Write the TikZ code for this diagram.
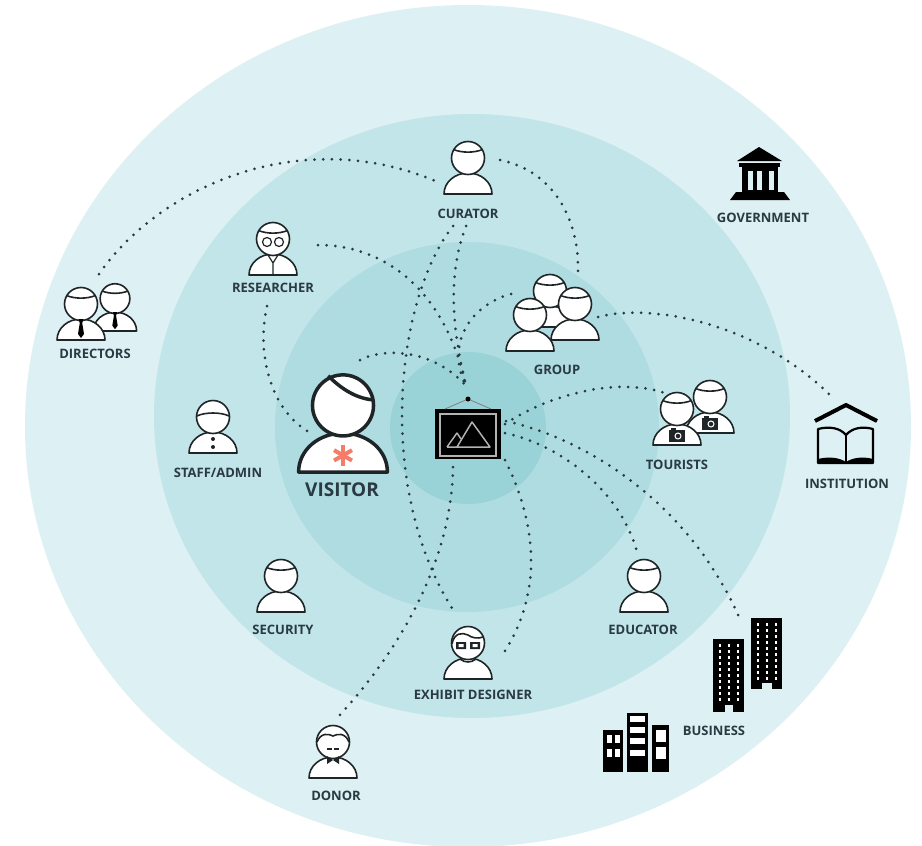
\documentclass[tikz,border=0pt]{standalone}
\usepackage{fontspec}
\setsansfont{Open Sans}
\usepackage{tikz}
\definecolor{ringfour}{HTML}{DDF0F3}
\definecolor{ringthree}{HTML}{C2E5E9}
\definecolor{ringtwo}{HTML}{AEDCE0}
\definecolor{ringone}{HTML}{9AD3D7}
\definecolor{iconink}{HTML}{1F2527}
\definecolor{labelink}{HTML}{2A3A42}
\definecolor{dotink}{HTML}{2A3A40}
\definecolor{starred}{HTML}{F47C68}
\newcommand{\hairarc}{\draw (-14.5,-44.5) .. controls (-6,-41) and (6,-41) .. (14.5,-44.5);}
\tikzset{
  dotline/.style={draw=dotink,line width=3pt,line cap=round,dash pattern=on 0pt off 8.7pt},
  rolelabel/.style={font=\sffamily\bfseries\fontsize{13}{15}\selectfont,text=labelink,inner sep=0pt},
  pics/person/.style={code={
    \draw[draw=iconink,fill=white,line join=round] (-24,0) .. controls (-24,-12) and (-13,-21) .. (0,-21)
      .. controls (13,-21) and (24,-12) .. (24,0) -- cycle;
    \draw[draw=iconink,fill=white] (0,-36) circle [radius=16.5];
    \begin{scope}[draw=iconink]
      #1
    \end{scope}
  }},
  pics/camera/.style={code={
    \fill[iconink] (-8,-15) rectangle (8,-3);
    \fill[iconink] (-6,-17) rectangle (-1,-15);
    \draw[white,line width=1pt] (1,-9) circle [radius=3];
  }},
  pics/tie/.style={code={
    \fill[black] (-2.5,-21) -- (2.5,-21) -- (1.2,-17) -- (3,-6) -- (0,-2) -- (-3,-6) -- (-1.2,-17) -- cycle;
  }},
}
\begin{document}
\begin{tikzpicture}[x=1pt,y=-1pt,line width=1.6pt]
  \clip (0,0) rectangle (922,846);
  \fill[white] (0,0) rectangle (922,846);

  % Rings
  \fill[ringfour] (468,426) ellipse [x radius=443,y radius=421];
  \fill[ringthree] (472,416) ellipse [x radius=318,y radius=302];
  \fill[ringtwo] (467,427) ellipse [x radius=192,y radius=185];
  \fill[ringone] (468,428) ellipse [x radius=78,y radius=76];

  % Loose ends of the dotted links
  \coordinate (hook) at (466,386);
  \coordinate (dirtop) at (99,274);
  \coordinate (curleft) at (440,183);
  \coordinate (curright) at (500,160);
  \coordinate (curbelowa) at (453,226);
  \coordinate (curbelowb) at (466,226);
  \coordinate (resright) at (318,245);
  \coordinate (resbelow) at (267,306);
  \coordinate (vistop) at (360,360);
  \coordinate (visright) at (311,433);
  \coordinate (grpleft) at (511,294);
  \coordinate (grptop) at (578,275);
  \coordinate (grpright) at (598,317);
  \coordinate (insttop) at (829,394);
  \coordinate (paintne) at (505,424);
  \coordinate (painte) at (506,421);
  \coordinate (paintse) at (505,433);
  \coordinate (paintlow) at (505,460);
  \coordinate (paintbelow) at (453,467);
  \coordinate (tourleft) at (665,393);
  \coordinate (bizend) at (740,619);
  \coordinate (eduend) at (637,552);
  \coordinate (desright) at (503,654);
  \coordinate (desleft) at (455,613);
  \coordinate (donend) at (338,717);

  % Dotted links
  \draw[dotline] (dirtop) .. controls (165,180) and (310,125) .. (curleft);
  \draw[dotline] (curright) .. controls (550,170) and (580,215) .. (grptop);
  \draw[dotline] (curbelowa) .. controls (395,300) and (375,490) .. (desleft);
  \draw[dotline] (curbelowb) .. controls (445,280) and (455,340) .. (hook);
  \draw[dotline] (resright) .. controls (385,245) and (445,290) .. (hook);
  \draw[dotline] (resbelow) .. controls (255,360) and (275,415) .. (visright);
  \draw[dotline] (vistop) .. controls (385,347) and (435,350) .. (hook);
  \draw[dotline] (grpleft) .. controls (470,305) and (445,345) .. (hook);
  \draw[dotline] (grpright) .. controls (650,303) and (755,322) .. (insttop);
  \draw[dotline] (paintne) .. controls (540,400) and (610,375) .. (tourleft);
  \draw[dotline] (painte) .. controls (590,440) and (690,505) .. (bizend);
  \draw[dotline] (paintse) .. controls (560,445) and (620,490) .. (eduend);
  \draw[dotline] (paintlow) .. controls (535,520) and (545,590) .. (desright);
  \draw[dotline] (paintbelow) .. controls (452,560) and (400,650) .. (donend);

  % Painting
  \node[fill=black,minimum width=66pt,minimum height=50pt,inner sep=0pt] (painting) at (468,434) {};
  \draw[gray!60,line width=1.4pt] (440,414) rectangle (496,456);
  \draw[gray!60,line width=1.5pt,line join=round] (457,447) -- (472,422) -- (490,447) -- cycle;
  \draw[gray!60,line width=1.5pt,line join=round] (447,447) -- (457,433) -- (461,439) (447,447) -- (457,447);
  \draw[gray,line width=0.8pt] (445,409) -- (468,399) -- (491,409);
  \fill[black] (468,399) circle [radius=2.5];

  % Visitor
  \pic[scale=1.85,line width=3.5pt] at (343,472) {person={
    \draw (-8,-52) .. controls (-2,-46) and (6,-40) .. (16,-39);
    \foreach \a in {90,30,150} {
      \draw[starred,line width=4pt] (0,-9) ++(\a:5.6) -- ++(\a+180:11.2);
    }
  }};
  \node[rolelabel,font=\sffamily\bfseries\fontsize{19}{22}\selectfont] (visitorlabel) at (342,490) {VISITOR};

  % Curator
  \pic at (468,194) {person={\hairarc}};
  \node[rolelabel] (curatorlabel) at (468,214) {CURATOR};

  % Researcher
  \pic at (273,275) {person={
    \hairarc
    \draw[line width=1.2pt] (-6,-33) circle [radius=4.5] (6,-33) circle [radius=4.5];
    \draw[line width=1.2pt] (-5,-20) -- (0,-12) -- (5,-20) (0,-12) -- (0,0);
  }};
  \node[rolelabel] (researcherlabel) at (273,288) {RESEARCHER};

  % Directors
  \pic[scale=.9] at (115,331) {person={\hairarc}};
  \pic[scale=.9] at (115,331) {tie};
  \pic at (81,340) {person={\hairarc}};
  \pic at (81,340) {tie};
  \node[rolelabel] (directorslabel) at (95,354) {DIRECTORS};

  % Staff and security
  \pic at (213,453) {person={
    \draw (-16,-37) .. controls (-8,-41) and (8,-41) .. (16,-37);
    \fill[iconink] (0,-14) circle [radius=2] (0,-6) circle [radius=2];
  }};
  \node[rolelabel] (stafflabel) at (218,473) {STAFF/ADMIN};
  \pic at (281,612) {person={\hairarc}};
  \node[rolelabel] (securitylabel) at (283,630) {SECURITY};

  % Educator
  \pic at (644,612) {person={\hairarc}};
  \node[rolelabel] (educatorlabel) at (643,630) {EDUCATOR};

  % Exhibit designer
  \pic at (468,679) {person={
    \draw (-16,-35) .. controls (-14,-46) and (-6,-47) .. (0,-44) .. controls (4,-41) and (10,-40) .. (15,-42);
    \fill[iconink] (-12,-37) rectangle (-2,-30) (2,-37) rectangle (12,-30);
    \fill[white] (-9.5,-35) rectangle (-4.5,-32) (4.5,-35) rectangle (9.5,-32);
    \draw (-8,-20) .. controls (-3,-16) and (3,-16) .. (8,-20);
  }};
  \node[rolelabel] (designerlabel) at (473,695) {EXHIBIT DESIGNER};

  % Donor
  \pic at (333,778) {person={
    \draw (-16,-36) .. controls (-12,-46) and (-4,-44) .. (0,-42) .. controls (4,-44) and (12,-46) .. (16,-36);
    \draw[line width=1.2pt] (-6,-29) -- (-1,-29) (1,-29) -- (6,-29);
    \fill[iconink] (0,-18) -- (-6,-22) -- (-6,-14) -- cycle (0,-18) -- (6,-22) -- (6,-14) -- cycle;
  }};
  \node[rolelabel] (donorlabel) at (336,796) {DONOR};

  % Tourists
  \pic at (710,433) {person={\hairarc}};
  \pic at (710,433) {camera};
  \pic at (677,445) {person={\hairarc}};
  \pic at (677,445) {camera};
  \node[rolelabel] (touristslabel) at (677,465) {TOURISTS};

  % Group
  \pic at (550,327) {person={\hairarc}};
  \pic at (530,351) {person={\hairarc}};
  \pic at (575,340) {person={\hairarc}};
  \node[rolelabel] (grouplabel) at (557,370) {GROUP};

  % Government
  \fill[black] (759,147) -- (782,161) -- (737,161) -- cycle;
  \fill[black] (739,163) rectangle (780,167);
  \fill[black] (742,167) rectangle (778,192);
  \foreach \x in {748,757,769} {
    \fill[ringfour] (\x,171) rectangle (\x+5,190);
  }
  \fill[black] (736,192) -- (784,192) -- (790,200) -- (730,200) -- cycle;
  \node[rolelabel] (governmentlabel) at (763,218) {GOVERNMENT};

  % Institution
  \draw[black,line width=4pt,line join=round] (815,421) -- (846,405) -- (877,421);
  \draw[black,line width=2.2pt,line join=round] (818,429) .. controls (830,426) and (840,428) .. (846,435)
    .. controls (852,428) and (862,426) .. (873,429) -- (873,463) -- (818,463) -- cycle;
  \draw[black,line width=2.2pt] (846,435) -- (846,463);
  \fill[black] (818,463) -- (818,459) .. controls (830,456) and (840,458) .. (846,462)
    .. controls (852,458) and (862,456) .. (873,459) -- (873,463) -- cycle;
  \node[rolelabel] (institutionlabel) at (847,484) {INSTITUTION};

  % Business
  \fill[black] (713,639) rectangle (744,712);
  \fill[ringfour] (725,705) rectangle (733,712);
  \foreach \x in {720,729,738} {
    \draw[white,line width=2.4pt,dash pattern=on 3pt off 3pt] (\x,644) -- (\x,702);
  }
  \fill[black] (751,618) rectangle (782,689);
  \fill[ringfour] (762,683) rectangle (772,689);
  \foreach \x in {758,767,776} {
    \draw[white,line width=2.4pt,dash pattern=on 3pt off 3pt] (\x,623) -- (\x,680);
  }
  \node[rolelabel] (businesslabel) at (714,731) {BUSINESS};
  \fill[black] (603,730) rectangle (623,772);
  \foreach \x in {607,615} {
    \foreach \y in {735,749} {
      \fill[white] (\x,\y) rectangle (\x+5,\y+8);
    }
  }
  \fill[black] (627,713) rectangle (648,772);
  \foreach \y in {716,727,738,750} {
    \fill[white] (630,\y) rectangle (645,\y+6);
  }
  \fill[black] (652,725) rectangle (669,772);
  \foreach \y in {730,747} {
    \fill[white] (656,\y) rectangle (666,\y+12);
  }
\end{tikzpicture}
\end{document}
